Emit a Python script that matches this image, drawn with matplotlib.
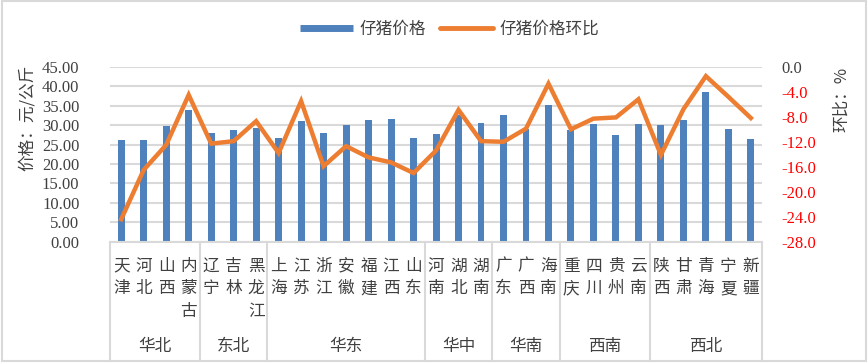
import matplotlib.pyplot as plt
from matplotlib.lines import Line2D
from matplotlib.patches import Rectangle
import matplotlib.transforms as mtransforms

# ---- data ----
provinces = ["天津", "河北", "山西", "内蒙古",
             "辽宁", "吉林", "黑龙江",
             "上海", "江苏", "浙江", "安徽", "福建", "江西", "山东",
             "河南", "湖北", "湖南",
             "广东", "广西", "海南",
             "重庆", "四川", "贵州", "云南",
             "陕西", "甘肃", "青海", "宁夏", "新疆"]
regions = ["华北", "东北", "华东", "华中", "华南", "西南", "西北"]
region_sizes = [4, 3, 7, 3, 3, 4, 5]

price = [26.1, 26.1, 29.7, 33.8,
         27.9, 28.7, 29.2,
         26.6, 31.0, 27.9, 30.0, 31.3, 31.5, 26.6,
         27.7, 32.6, 30.5,
         32.6, 29.0, 35.1,
         28.7, 30.2, 27.4, 30.2,
         30.0, 31.3, 38.5, 29.0, 26.4]
mom = [-24.4, -16.5, -12.5, -4.5,
       -12.3, -11.9, -8.7,
       -13.8, -5.5, -15.9, -12.7, -14.5, -15.3, -17.0,
       -13.4, -6.9, -11.9,
       -12.0, -9.9, -2.7,
       -10.0, -8.3, -8.1, -5.2,
       -14.1, -6.8, -1.5, -4.8, -8.2]

left_ticks = [0, 5, 10, 15, 20, 25, 30, 35, 40, 45]
right_ticks = [-28, -24, -20, -16, -12, -8, -4, 0]

# ---- style ----
CJK = ["Noto Sans CJK SC", "DejaVu Sans"]
NUM = ["Liberation Serif", "DejaVu Serif"]
BLUE = "#4f81bd"
ORANGE = "#ed7d31"
GRID = "#d9d9d9"
TXT = "#404040"

plt.rcParams["font.family"] = CJK

fig = plt.figure(figsize=(8.68, 3.63), dpi=100)
ax = fig.add_axes([0.1267, 0.334, 0.7513, 0.482])
ax2 = ax.twinx()

x = list(range(len(provinces)))
ax.bar(x, price, width=0.31, color=BLUE, zorder=2)
ax2.plot(x, mom, color=ORANGE, lw=3.2, solid_joinstyle="miter", zorder=3)

ax.set_xlim(-0.5, len(provinces) - 0.5)
ax.set_ylim(0, 45)
ax2.set_ylim(-28, 0)

ax.set_yticks(left_ticks)
ax.set_yticklabels([f"{v:.2f}" for v in left_ticks], family=NUM, fontsize=12, color=TXT)
ax2.set_yticks(right_ticks)
ax2.set_yticklabels([f"{v:.1f}" for v in right_ticks], family=NUM, fontsize=12)
for lab, v in zip(ax2.get_yticklabels(), right_ticks):
    lab.set_color(TXT if v == 0 else "red")

ax.tick_params(axis="y", length=0, pad=22)
ax2.tick_params(axis="y", length=0, pad=14)
ax.set_xticks([])

ax.grid(axis="y", color=GRID, lw=1.5, zorder=0)
ax.set_axisbelow(True)
for a in (ax, ax2):
    for s in a.spines.values():
        s.set_visible(False)
ax.spines["bottom"].set_visible(True)
ax.spines["bottom"].set_color(GRID)
ax.spines["bottom"].set_linewidth(1.5)

# ---- multi-level category axis ----
trans = mtransforms.blended_transform_factory(ax.transData, ax.transAxes)
row0, row_step = -0.139, 0.129
for i, name in enumerate(provinces):
    for j, ch in enumerate(name):
        ax.text(i, row0 - j * row_step, ch, transform=trans, ha="center",
                va="center", fontsize=12, color=TXT)

bounds = [-0.5]
for n in region_sizes:
    bounds.append(bounds[-1] + n)
for k, reg in enumerate(regions):
    mid = (bounds[k] + bounds[k + 1]) / 2
    ax.text(mid, -0.596, reg, transform=trans, ha="center", va="center",
            fontsize=12, color=TXT)
for b in bounds:
    ax.plot([b, b], [0, -0.68], transform=trans, color=GRID, lw=1.5,
            clip_on=False)

# ---- axis titles ----
fig.text(0.031, 0.675, "价格：元/公斤", rotation=90, ha="center", va="center",
         fontsize=12, color=TXT)
fig.text(0.970, 0.725, "环比：%", rotation=90, ha="center", va="center",
         fontsize=12, color=TXT)

# ---- legend ----
handles = [Line2D([], [], color=BLUE, lw=5, solid_capstyle="butt"),
           Line2D([], [], color=ORANGE, lw=3.5, solid_capstyle="round")]
fig.legend(handles, ["仔猪价格", "仔猪价格环比"], loc="center",
           bbox_to_anchor=(0.518, 0.92), ncol=2, frameon=False,
           fontsize=12, handlelength=3.2, columnspacing=0.8,
           handletextpad=0.4, labelcolor=TXT)

# ---- chart border ----
fig.patches.append(Rectangle((0.002, 0.006), 0.996, 0.99, transform=fig.transFigure,
                             fill=False, edgecolor=GRID, lw=1.5))

fig.savefig("out.png", dpi=100)
